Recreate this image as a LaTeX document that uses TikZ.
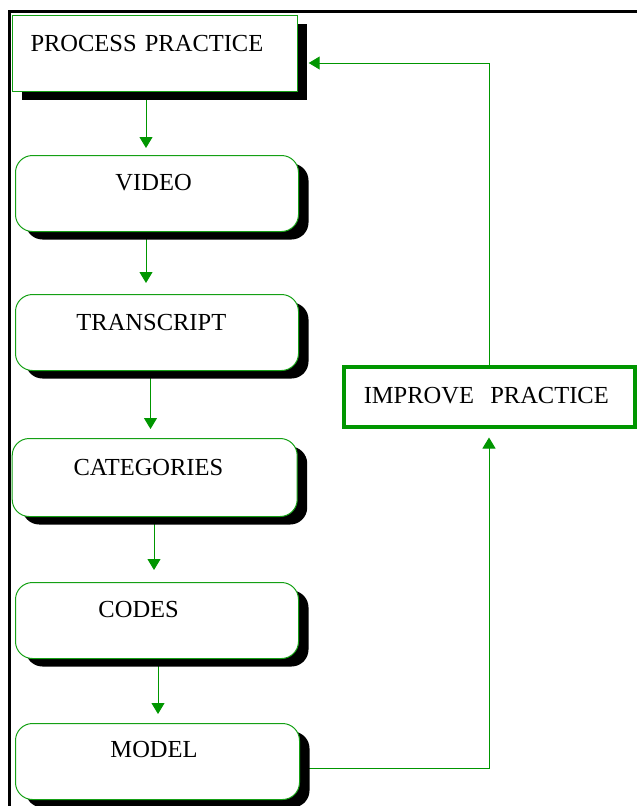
\documentclass[tikz,border=0pt]{standalone}
\usepackage{fontspec}
\setmainfont{Liberation Serif}
\usetikzlibrary{arrows.meta,shadows,backgrounds}
\definecolor{lgreen}{RGB}{0,150,0}
\definecolor{bgreen}{RGB}{20,160,20}
\begin{document}
\begin{tikzpicture}[x=1pt,y=-1pt,
  box/.style={draw=bgreen, line width=1pt, fill=white, inner xsep=0pt, inner ysep=0pt,
    align=left, font=\fontsize{24.5}{29}\selectfont, anchor=north west,
    drop shadow={shadow xshift=10pt,shadow yshift=-8pt,fill=black,opacity=1}},
  rbox/.style={box, rounded corners=17pt},
  ibox/.style={draw=lgreen, line width=3.5pt, fill=white, inner xsep=0pt, inner ysep=0pt,
    align=left, font=\fontsize{24.5}{29}\selectfont, anchor=north west},
  conn/.style={draw=lgreen, line width=1pt},
  arr/.style={conn, -{Triangle[width=13pt,length=11pt]}}]
\useasboundingbox (0,0) rectangle (637,806);
% outer frame
\draw[line width=3pt] (9.7,830) -- (9.7,11.5) -- (660,11.5);
% boxes
\node[box, text width=285pt, text height=36pt, text depth=40pt] (pp) at (11.7,15) {\hspace*{18.3pt}PROCESS PRACTICE};
\node[rbox, text width=283pt, text height=35pt, text depth=41pt] (video) at (15,155) {\hspace*{100pt}VIDEO};
\node[rbox, text width=283pt, text height=36pt, text depth=40pt] (transcript) at (15,294) {\hspace*{61pt}TRANSCRIPT};
\node[rbox, text width=285pt, text height=37pt, text depth=41pt] (categories) at (11.7,438) {\hspace*{61.3pt}CATEGORIES};
\node[rbox, text width=283pt, text height=35pt, text depth=41pt] (codes) at (15,582) {\hspace*{83pt}CODES};
\node[rbox, text width=284pt, text height=34pt, text depth=42pt] (model) at (15,723) {\hspace*{95pt}MODEL};
\node[ibox, text width=291pt, text height=37pt, text depth=23pt] (improve) at (342,365) {\hspace*{20pt}IMPROVE~~PRACTICE};
% connector coordinates
\coordinate (a1) at (146,0);
\coordinate (a2) at (146,0);
\coordinate (a3) at (150.5,0);
\coordinate (a4) at (154,0);
\coordinate (a5) at (158,0);
\coordinate (fbbot) at (489,768);
\coordinate (fbtop) at (489,63);
\begin{pgfonlayer}{background}
\draw[arr, shorten >=7pt] (pp.south -| a1) -- (video.north -| a1);
\draw[arr, shorten >=11pt] (video.south -| a2) -- (transcript.north -| a2);
\draw[arr, shorten >=9pt] (transcript.south -| a3) -- (categories.north -| a3);
\draw[arr, shorten >=12pt] (categories.south -| a4) -- (codes.north -| a4);
\draw[arr, shorten >=9pt] (codes.south -| a5) -- (model.north -| a5);
\draw[arr, shorten >=9pt] (model.east |- fbbot) -- (fbbot) -- (improve.south -| fbbot);
\draw[arr, shorten >=11pt] (improve.north -| fbtop) -- (fbtop) -- (pp.east |- fbtop);
\end{pgfonlayer}
\end{tikzpicture}
\end{document}
